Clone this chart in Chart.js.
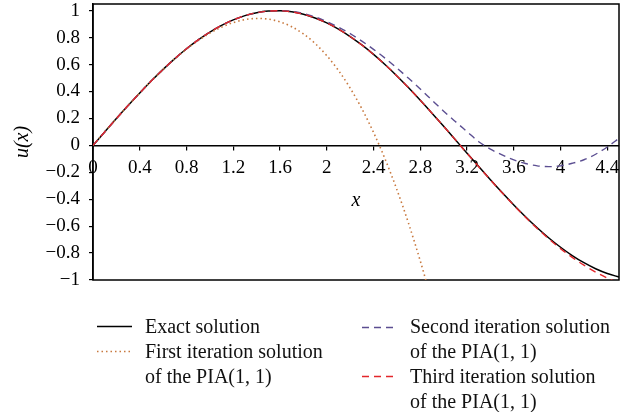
<!DOCTYPE html>
<html>
<head>
<meta charset="utf-8">
<script src="https://cdn.jsdelivr.net/npm/chart.js@4.4.1/dist/chart.umd.min.js"></script>
<style>
  html, body { margin: 0; padding: 0; background: #fff; }
  #wrap { position: relative; width: 632px; height: 412px; overflow: hidden; }
  #c { position: absolute; left: 0; top: 0; }
  .lg { position: absolute; font-family: "Liberation Serif", "DejaVu Serif", serif; font-size: 20px; line-height: 25px; color: #111; white-space: nowrap; }
  svg.s { position: absolute; overflow: visible; }
</style>
</head>
<body>
<div id="wrap">
  <canvas id="c" width="632" height="412"></canvas>
  <svg class="s" style="left:0;top:0" width="632" height="412">
    <line x1="97" y1="326.5" x2="132" y2="326.5" stroke="#000" stroke-width="1.5"/>
    <line x1="97" y1="351.5" x2="132" y2="351.5" stroke="#c8793f" stroke-width="1.6" stroke-dasharray="1.5 3"/>
    <line x1="362" y1="327.5" x2="397" y2="327.5" stroke="#5b4e91" stroke-width="1.4" stroke-dasharray="7 5"/>
    <line x1="362" y1="376.5" x2="397" y2="376.5" stroke="#e3262b" stroke-width="1.4" stroke-dasharray="7 5"/>
  </svg>
  <div class="lg" style="left:145px;top:314px">Exact solution</div>
  <div class="lg" style="left:145px;top:339px">First iteration solution<br>of the PIA(1, 1)</div>
  <div class="lg" style="left:410px;top:314px">Second iteration solution<br>of the PIA(1, 1)</div>
  <div class="lg" style="left:410px;top:364px">Third iteration solution<br>of the PIA(1, 1)</div>
</div>
<script>
// ---- data ----
const xGrid = [0,0.1,0.2,0.3,0.4,0.5,0.6,0.7,0.8,0.9,1.0,1.1,1.2,1.3,1.4,1.5,1.6,1.7,1.8,1.9,2.0,2.1,2.2,2.3,2.4,2.5,2.6,2.7,2.8,2.9,3.0,3.1,3.2,3.3,3.4,3.5,3.6,3.7,3.8,3.9,4.0,4.1,4.2,4.3,4.4,4.5];

const exactValues = [0,0.0998,0.1987,0.2955,0.3894,0.4794,0.5646,0.6442,0.7174,0.7833,0.8415,0.8912,0.9320,0.9636,0.9854,0.9975,0.9996,0.9917,0.9738,0.9463,0.9093,0.8632,0.8085,0.7457,0.6755,0.5985,0.5155,0.4274,0.3350,0.2392,0.1411,0.0416,-0.0584,-0.1577,-0.2555,-0.3508,-0.4425,-0.5298,-0.6119,-0.6878,-0.7568,-0.8183,-0.8716,-0.9162,-0.9516,-0.9775];

const secondValues = [0,0.0998,0.1987,0.2955,0.3894,0.4794,0.5646,0.6442,0.7174,0.7833,0.8415,0.8912,0.9320,0.9636,0.9855,0.9978,1.0010,0.9947,0.9790,0.9540,0.9200,0.8780,0.8300,0.7740,0.7130,0.6470,0.5740,0.4980,0.4190,0.3360,0.2540,0.1770,0.1020,0.0270,-0.0280,-0.0710,-0.1080,-0.1350,-0.1520,-0.1580,-0.1520,-0.1330,-0.1070,-0.0660,-0.0120,0.0530];

const thirdValues = [0,0.0998,0.1987,0.2955,0.3894,0.4794,0.5646,0.6442,0.7174,0.7833,0.8415,0.8912,0.9320,0.9636,0.9854,0.9975,0.9996,0.9917,0.9738,0.9463,0.9093,0.8632,0.8085,0.7457,0.6755,0.5985,0.5155,0.4274,0.3350,0.2392,0.1410,0.0414,-0.0588,-0.1585,-0.2567,-0.3526,-0.4451,-0.5334,-0.6170,-0.6950,-0.7668,-0.8321,-0.8902,-0.9415,-0.9856,-1.0232];

const firstX = [0,0.1,0.2,0.3,0.4,0.5,0.6,0.7,0.8,0.9,1.0,1.1,1.2,1.3,1.4,1.5,1.6,1.7,1.8,1.9,2.0,2.1,2.2,2.3,2.4,2.5,2.6,2.7,2.8,2.85];
const firstValues = [0,0.0998,0.1987,0.2955,0.3893,0.4792,0.5640,0.6428,0.7147,0.7785,0.8333,0.8782,0.9120,0.9338,0.9427,0.9375,0.9173,0.8812,0.8280,0.7568,0.6667,0.5565,0.4253,0.2722,0.0960,-0.1042,-0.3293,-0.5805,-0.8587,-1.0081];

const xTicks = [0,0.4,0.8,1.2,1.6,2,2.4,2.8,3.2,3.6,4,4.4];
const xTickLabels = ["0","0.4","0.8","1.2","1.6","2","2.4","2.8","3.2","3.6","4","4.4"];
const yTicks = [-1,-0.8,-0.6,-0.4,-0.2,0,0.2,0.4,0.6,0.8,1];
const yTickLabels = ["\u22121","\u22120.8","\u22120.6","\u22120.4","\u22120.2","0","0.2","0.4","0.6","0.8","1"];

const seriesNames = ["Exact solution","First iteration solution of the PIA(1, 1)","Second iteration solution of the PIA(1, 1)","Third iteration solution of the PIA(1, 1)"];

function pts(xs, ys) { return xs.map((x, i) => ({ x: x, y: ys[i] })); }

const FONT = "'Liberation Serif', 'DejaVu Serif', serif";

const framePlugin = {
  id: 'frame',
  beforeDatasetsDraw(chart) {
    const { ctx, chartArea: a } = chart;
    ctx.save();
    ctx.strokeStyle = '#000';
    ctx.lineWidth = 1.5;
    ctx.strokeRect(a.left, a.top, a.right - a.left, a.bottom - a.top);
    ctx.restore();
  }
};

new Chart(document.getElementById('c'), {
  type: 'scatter',
  data: {
    datasets: [
      { label: seriesNames[3], data: pts(xGrid, thirdValues), showLine: true, borderColor: '#e3262b', borderWidth: 1.4, borderDash: [7, 5], pointRadius: 0, cubicInterpolationMode: 'monotone', order: 0 },
      { label: seriesNames[2], data: pts(xGrid, secondValues), showLine: true, borderColor: '#5b4e91', borderWidth: 1.4, borderDash: [7, 5], pointRadius: 0, cubicInterpolationMode: 'monotone', order: 1 },
      { label: seriesNames[1], data: pts(firstX, firstValues), showLine: true, borderColor: '#c8793f', borderWidth: 1.6, borderDash: [1.5, 3], pointRadius: 0, cubicInterpolationMode: 'monotone', order: 2 },
      { label: seriesNames[0], data: pts(xGrid, exactValues), showLine: true, borderColor: '#000', borderWidth: 1.5, pointRadius: 0, cubicInterpolationMode: 'monotone', order: 3 }
    ]
  },
  options: {
    responsive: false,
    animation: false,
    devicePixelRatio: 1,
    layout: { padding: { left: 0, top: 4, right: 13, bottom: 132 } },
    plugins: { legend: { display: false }, tooltip: { enabled: false } },
    scales: {
      x: {
        type: 'linear',
        min: 0, max: 4.5,
        position: { y: 0 },
        afterBuildTicks: s => { s.ticks = xTicks.map(v => ({ value: v })); },
        afterFit: s => { s.paddingLeft = 0; s.paddingRight = 0; },
        ticks: {
          color: '#000', padding: 7, maxRotation: 0, autoSkip: false,
          font: { family: FONT, size: 19 },
          callback: (v, i) => xTickLabels[i]
        },
        grid: { drawOnChartArea: false, drawTicks: true, tickLength: 4, color: '#000', lineWidth: 1.2 },
        border: { display: true, color: '#000', width: 1.5 },
        title: { display: true, text: 'x', color: '#000', font: { family: FONT, size: 20, style: 'italic' }, padding: { top: 3, bottom: 0 } }
      },
      y: {
        type: 'linear',
        min: -1, max: 1.05,
        position: 'left',
        afterBuildTicks: s => { s.ticks = yTicks.map(v => ({ value: v })); },
        afterFit: s => { s.width = 93; s.paddingTop = 0; s.paddingBottom = 0; },
        ticks: {
          color: '#000', padding: 9, autoSkip: false,
          font: { family: FONT, size: 19 },
          callback: (v, i) => yTickLabels[i]
        },
        grid: { drawOnChartArea: false, drawTicks: true, tickLength: 4, color: '#000', lineWidth: 1.2 },
        border: { display: true, color: '#000', width: 1.5 },
        title: { display: true, text: 'u(x)', color: '#000', font: { family: FONT, size: 20, style: 'italic' }, padding: { top: 11, bottom: 0 } }
      }
    }
  },
  plugins: [framePlugin]
});
</script>
</body>
</html>
